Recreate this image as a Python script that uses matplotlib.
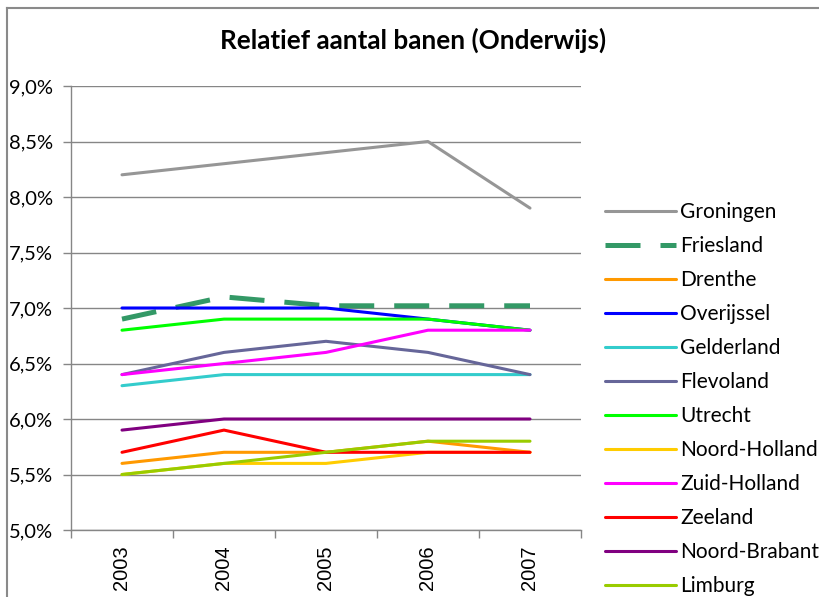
import matplotlib
matplotlib.use("Agg")
import matplotlib.pyplot as plt
from matplotlib.lines import Line2D
from matplotlib.ticker import FuncFormatter, FixedLocator

years = ["2003", "2004", "2005", "2006", "2007"]
provinces = ["Groningen", "Friesland", "Drenthe", "Overijssel", "Gelderland",
             "Flevoland", "Utrecht", "Noord-Holland", "Zuid-Holland", "Zeeland",
             "Noord-Brabant", "Limburg"]
groningen = [8.2, 8.3, 8.4, 8.5, 7.9]
friesland = [6.9, 7.1, 7.02, 7.02, 7.02]
drenthe = [5.6, 5.7, 5.7, 5.8, 5.7]
overijssel = [7.0, 7.0, 7.0, 6.9, 6.8]
gelderland = [6.3, 6.4, 6.4, 6.4, 6.4]
flevoland = [6.4, 6.6, 6.7, 6.6, 6.4]
utrecht = [6.8, 6.9, 6.9, 6.9, 6.8]
noord_holland = [5.5, 5.6, 5.6, 5.7, 5.7]
zuid_holland = [6.4, 6.5, 6.6, 6.8, 6.8]
zeeland = [5.7, 5.9, 5.7, 5.7, 5.7]
noord_brabant = [5.9, 6.0, 6.0, 6.0, 6.0]
limburg = [5.5, 5.6, 5.7, 5.8, 5.8]
series = [groningen, friesland, drenthe, overijssel, gelderland, flevoland,
          utrecht, noord_holland, zuid_holland, zeeland, noord_brabant, limburg]
colors = ["#969696", "#339966", "#FF9900", "#0000FF", "#33CCCC", "#666699",
          "#00FF00", "#FFCC00", "#FF00FF", "#FF0000", "#800080", "#99CC00"]
y_ticks = [5.0, 5.5, 6.0, 6.5, 7.0, 7.5, 8.0, 8.5, 9.0]

W, H = 819, 597
fig = plt.figure(figsize=(W / 100, H / 100), dpi=100)
fig.patch.set_facecolor("white")
ax = fig.add_axes([71 / W, 1 - 530 / H, (581 - 71) / W, (530 - 86) / H])

x = list(range(len(years)))
for name, vals, col in zip(provinces, series, colors):
    if name == "Friesland":
        ax.plot(x, vals, color=col, lw=3.6, linestyle=(0, (7, 4)),
                dash_capstyle="butt", label=name)
    else:
        ax.plot(x, vals, color=col, lw=2.2, label=name, solid_capstyle="round")

ax.set_xlim(-0.5, len(years) - 0.5)
ax.set_ylim(5.0, 9.0)
ax.set_yticks(y_ticks)
ax.yaxis.set_major_formatter(FuncFormatter(lambda v, p: f"{v:.1f}".replace(".", ",") + "%"))
ax.set_xticks(x)
ax.set_xticklabels(years, rotation=90, fontfamily="Liberation Sans", fontsize=14.5)
ax.xaxis.set_minor_locator(FixedLocator([i - 0.5 for i in range(len(years) + 1)]))
ax.tick_params(axis="x", which="major", length=0, pad=11)
ax.tick_params(axis="x", which="minor", length=6, color="#868686", width=1)
ax.tick_params(axis="y", length=6, color="#868686", width=1, pad=7, labelsize=14.5)
for lab in ax.get_yticklabels():
    lab.set_fontfamily("Lato")

ax.grid(axis="y", color="#868686", lw=1)
ax.set_axisbelow(True)
for s in ["top", "right"]:
    ax.spines[s].set_visible(False)
for s in ["left", "bottom"]:
    ax.spines[s].set_color("#868686")
    ax.spines[s].set_linewidth(1)

fig.text(413 / W, 1 - 40 / H, "Relatief aantal banen (Onderwijs)", ha="center", va="center",
         fontfamily="Lato", fontweight="bold", fontsize=18.8)

leg = ax.legend(loc="upper left", bbox_to_anchor=(597 / W, 1 - 194 / H),
                bbox_transform=fig.transFigure, frameon=False,
                prop={"family": "Lato", "size": 15}, handlelength=3.4,
                handletextpad=0.2, labelspacing=0.672, borderaxespad=0)

fig.add_artist(Line2D([7 / W, 1], [1 - 7.5 / H, 1 - 7.5 / H], color="#8a8a8a", lw=1.5,
                      transform=fig.transFigure))
fig.add_artist(Line2D([7 / W, 7 / W], [0, 1 - 7.5 / H], color="#8a8a8a", lw=1.5,
                      transform=fig.transFigure))

fig.savefig("out.png", dpi=100)
